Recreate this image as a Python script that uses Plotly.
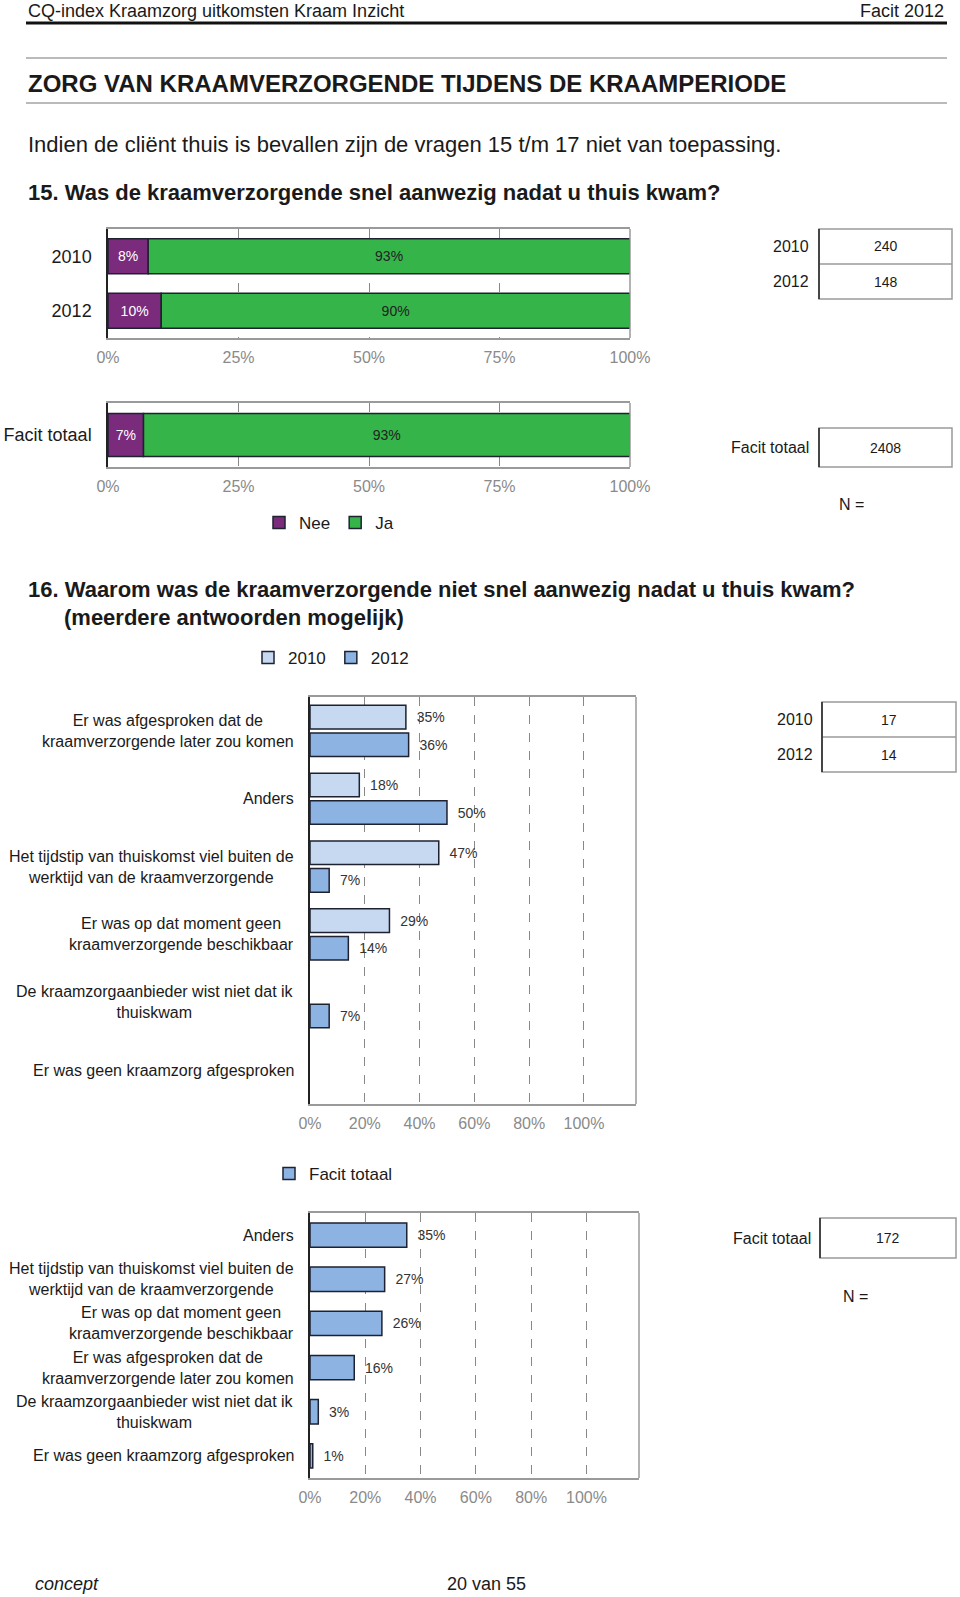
import plotly.graph_objects as go

W, H = 960, 1597

# Q15: kraamverzorgende snel aanwezig (Nee / Ja), per jaar
q15_years = ["2010", "2012"]
q15_nee = [7.7, 10.2]
q15_ja = [92.3, 89.8]
q15_nee_lbl = ["8%", "10%"]
q15_ja_lbl = ["93%", "90%"]
q15_n = [240, 148]

# Q15: Facit totaal
q15_tot_cat = ["Facit totaal"]
q15_tot_nee = [6.8]
q15_tot_ja = [93.2]
q15_tot_nee_lbl = ["7%"]
q15_tot_ja_lbl = ["93%"]
q15_tot_n = [2408]

# Q16: redenen, per jaar
q16_cats = [
    "Er was afgesproken dat de<br>kraamverzorgende later zou komen",
    "Anders",
    "Het tijdstip van thuiskomst viel buiten de<br>werktijd van de kraamverzorgende",
    "Er was op dat moment geen<br>kraamverzorgende beschikbaar",
    "De kraamzorgaanbieder wist niet dat ik<br>thuiskwam",
    "Er was geen kraamzorg afgesproken",
]
q16_2010 = [35, 18, 47, 29, None, None]
q16_2012 = [36, 50, 7, 14, 7, None]
q16_n = [17, 14]

# Q16: Facit totaal
q16_tot_cats = [
    "Anders",
    "Het tijdstip van thuiskomst viel buiten de<br>werktijd van de kraamverzorgende",
    "Er was op dat moment geen<br>kraamverzorgende beschikbaar",
    "Er was afgesproken dat de<br>kraamverzorgende later zou komen",
    "De kraamzorgaanbieder wist niet dat ik<br>thuiskwam",
    "Er was geen kraamzorg afgesproken",
]
q16_tot = [35, 27, 26, 16, 3, 1]
q16_tot_n = [172]

PURPLE = "#7A2B7C"
GREEN = "#35B44A"
LIGHT = "#C6D9F1"
BLUE = "#8DB3E2"
EDGE = "#1E2230"
TXT = "#1a1a1a"
TICK = "#8a8a8a"
FONT = "Liberation Sans, Arial, sans-serif"


def px(x):
    return x / W


def py(y):
    return 1 - y / H


def pct(vals):
    # small gap between bar end and label, like the original
    return ["" if v is None else f"\u00a0\u00a0{v}%" for v in vals]


fig = go.Figure()

# --- Q15 per jaar (stacked via base) ---
fig.add_trace(go.Bar(
    y=q15_years, x=q15_nee, orientation="h", name="Nee", width=0.64,
    marker=dict(color=PURPLE, line=dict(color=EDGE, width=1.5)),
    text=q15_nee_lbl, textposition="inside", insidetextanchor="middle",
    textfont=dict(color="white", size=14), xaxis="x", yaxis="y",
    legend="legend",
))
fig.add_trace(go.Bar(
    y=q15_years, x=q15_ja, base=q15_nee, orientation="h", name="Ja", width=0.64,
    marker=dict(color=GREEN, line=dict(color=EDGE, width=1.5)),
    text=q15_ja_lbl, textposition="inside", insidetextanchor="middle",
    textfont=dict(color="#222", size=14), xaxis="x", yaxis="y",
    legend="legend",
))

# --- Q15 totaal ---
fig.add_trace(go.Bar(
    y=q15_tot_cat, x=q15_tot_nee, orientation="h", name="Nee", width=0.67,
    marker=dict(color=PURPLE, line=dict(color=EDGE, width=1.5)),
    text=q15_tot_nee_lbl, textposition="inside", insidetextanchor="middle",
    textfont=dict(color="white", size=14), xaxis="x2", yaxis="y2",
    showlegend=False,
))
fig.add_trace(go.Bar(
    y=q15_tot_cat, x=q15_tot_ja, base=q15_tot_nee, orientation="h", name="Ja",
    width=0.67, marker=dict(color=GREEN, line=dict(color=EDGE, width=1.5)),
    text=q15_tot_ja_lbl, textposition="inside", insidetextanchor="middle",
    textfont=dict(color="#222", size=14), xaxis="x2", yaxis="y2",
    showlegend=False,
))

# --- Q16 per jaar ---
fig.add_trace(go.Bar(
    y=q16_cats, x=q16_2010, orientation="h", name="2010",
    width=0.347, offset=-0.377,
    marker=dict(color=LIGHT, line=dict(color=EDGE, width=1.5)),
    text=pct(q16_2010), textposition="outside", cliponaxis=False,
    textfont=dict(color="#333", size=14), xaxis="x3", yaxis="y3",
    legend="legend2",
))
fig.add_trace(go.Bar(
    y=q16_cats, x=q16_2012, orientation="h", name="2012",
    width=0.347, offset=0.03,
    marker=dict(color=BLUE, line=dict(color=EDGE, width=1.5)),
    text=pct(q16_2012), textposition="outside", cliponaxis=False,
    textfont=dict(color="#333", size=14), xaxis="x3", yaxis="y3",
    legend="legend2",
))

# --- Q16 totaal ---
fig.add_trace(go.Bar(
    y=q16_tot_cats, x=q16_tot, orientation="h", name="Facit totaal", width=0.55,
    marker=dict(color=BLUE, line=dict(color=EDGE, width=1.5)),
    text=pct(q16_tot), textposition="outside", cliponaxis=False,
    textfont=dict(color="#333", size=14), xaxis="x4", yaxis="y4",
    legend="legend3",
))

xcommon = dict(showline=True, mirror=True, linecolor="#9a9a9a", linewidth=1.5,
               showgrid=True, gridcolor="#888", griddash="dash", gridwidth=1,
               zeroline=False, ticks="", ticksuffix="%", ticklabelstandoff=4,
               tick0=0, tickfont=dict(size=16, color=TICK), fixedrange=True,
               automargin=False)
ycommon = dict(type="category", autorange="reversed", showline=True,
               linecolor="#222", linewidth=1.5, showgrid=False, ticks="",
               fixedrange=True, automargin=False)

legend_style = dict(orientation="h", xanchor="left", yanchor="top",
                    font=dict(size=17), itemwidth=30, bgcolor="rgba(0,0,0,0)")

fig.update_layout(
    width=W, height=H, autosize=False,
    margin=dict(l=0, r=0, t=0, b=0, pad=0, autoexpand=False),
    paper_bgcolor="white", plot_bgcolor="white",
    font=dict(family=FONT, color=TXT),
    barmode="overlay",
    xaxis=dict(xcommon, domain=[px(108), px(630)], range=[0, 100], dtick=25,
               anchor="y"),
    yaxis=dict(ycommon, domain=[py(338), py(229)], anchor="x",
               tickfont=dict(size=18, color=TXT), ticklabelstandoff=11),
    xaxis2=dict(xcommon, domain=[px(108), px(630)], range=[0, 100], dtick=25,
                anchor="y2"),
    yaxis2=dict(ycommon, domain=[py(467), py(403)], anchor="x2",
                tickfont=dict(size=18, color=TXT), ticklabelstandoff=11),
    xaxis3=dict(xcommon, domain=[px(310), px(636)], range=[0, 119], dtick=20,
                anchor="y3"),
    yaxis3=dict(ycommon, domain=[py(1104), py(697)], anchor="x3",
                showticklabels=False),
    xaxis4=dict(xcommon, domain=[px(310), px(639)], range=[0, 119], dtick=20,
                anchor="y4"),
    yaxis4=dict(ycommon, domain=[py(1478), py(1213)], anchor="x4",
                showticklabels=False),
    legend=dict(legend_style, x=px(259), y=py(505)),
    legend2=dict(legend_style, x=px(248), y=py(640)),
    legend3=dict(legend_style, x=px(269), y=py(1156)),
)

shapes = []
ann = []


def line(x0, y0, x1, y1, color, width):
    shapes.append(dict(type="line", xref="paper", yref="paper",
                       x0=px(x0), y0=py(y0), x1=px(x1), y1=py(y1),
                       line=dict(color=color, width=width)))


def text(x, y, s, size, anchor="left", bold=False, italic=False, color=TXT,
         align="left"):
    if bold:
        s = f"<b>{s}</b>"
    if italic:
        s = f"<i>{s}</i>"
    ann.append(dict(xref="paper", yref="paper", x=px(x), y=py(y), text=s,
                    showarrow=False, xanchor=anchor, yanchor="middle",
                    align=align, font=dict(size=size, color=color)))


# right borders of the plot frames
for xa, ya in [("x", "y"), ("x2", "y2"), ("x3", "y3"), ("x4", "y4")]:
    shapes.append(dict(type="line", xref=f"{xa} domain", yref=f"{ya} domain",
                       x0=1, x1=1, y0=0, y1=1,
                       line=dict(color="#9a9a9a", width=1.5)))

# page header / titles
text(26, 11, "CQ-index Kraamzorg uitkomsten Kraam Inzicht", 18)
text(946, 11, "Facit 2012", 18, anchor="right")
line(26, 23, 947, 23, "#111", 3)
line(26, 58, 947, 58, "#777", 1)
text(26, 83, "ZORG VAN KRAAMVERZORGENDE TIJDENS DE KRAAMPERIODE", 24, bold=True)
line(26, 103, 947, 103, "#777", 1)
text(26, 144, "Indien de cliënt thuis is bevallen zijn de vragen 15 t/m 17 niet van toepassing.", 22)
text(26, 193, "15. Was de kraamverzorgende snel aanwezig nadat u thuis kwam?", 22, bold=True)
text(26, 590, "16. Waarom was de kraamverzorgende niet snel aanwezig nadat u thuis kwam?", 22, bold=True)
text(62, 617, "(meerdere antwoorden mogelijk)", 22, bold=True)


def n_box(x0, x1, y_edges, labels, values, label_x):
    shapes.append(dict(type="rect", xref="paper", yref="paper",
                       x0=px(x0), x1=px(x1), y0=py(y_edges[-1]), y1=py(y_edges[0]),
                       line=dict(color="#9a9a9a", width=1.5)))
    for ye in y_edges[1:-1]:
        line(x0, ye, x1, ye, "#9a9a9a", 1.5)
    line(x0, y_edges[0], x0, y_edges[-1], "#222", 1.5)
    for i, (lab, val) in enumerate(zip(labels, values)):
        yc = (y_edges[i] + y_edges[i + 1]) / 2
        text(label_x, yc, lab, 16, anchor="right")
        text((x0 + x1) / 2, yc, str(val), 14, anchor="center")


n_box(819, 952, [229, 264, 299], q15_years, q15_n, 811)
n_box(819, 952, [428, 467], ["Facit totaal"], q15_tot_n, 811)
text(851, 505, "N =", 16, anchor="center")
n_box(822, 956, [702, 737, 772], q15_years, q16_n, 815)
n_box(820, 956, [1218, 1258], ["Facit totaal"], q16_tot_n, 813)
text(855, 1296, "N =", 16, anchor="center")

# category labels for Q16 charts (centered multi-line)
for c in q16_cats:
    ann.append(dict(xref="paper", yref="y3", x=px(296), y=c, text=c,
                    showarrow=False, xanchor="right", yanchor="middle",
                    align="center", font=dict(size=16, color=TXT)))
for c in q16_tot_cats:
    ann.append(dict(xref="paper", yref="y4", x=px(296), y=c, text=c,
                    showarrow=False, xanchor="right", yanchor="middle",
                    align="center", font=dict(size=16, color=TXT)))

# footer
text(33, 1584, "concept", 18, italic=True)
text(486, 1584, "20 van 55", 18, anchor="center")

fig.update_layout(shapes=shapes, annotations=ann)

fig.write_html("out.html", config={"displayModeBar": False, "responsive": False},
               default_width="960px", default_height="1597px",
               post_script="document.body.style.margin='0';"
                           "document.body.style.overflow='hidden';")
